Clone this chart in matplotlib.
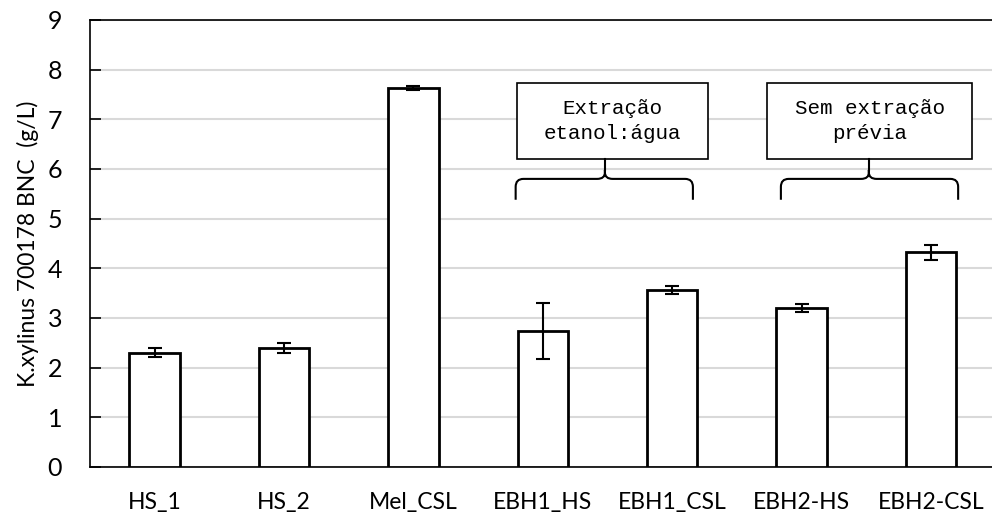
import numpy as np
import matplotlib
matplotlib.use("Agg")
from matplotlib import pyplot as plt
from matplotlib.patches import Rectangle, PathPatch
from matplotlib.path import Path

# dados (g/L)
categorias = ["HS_1", "HS_2", "Mel_CSL", "EBH1_HS", "EBH1_CSL", "EBH2-HS", "EBH2-CSL"]
bnc = [2.30, 2.39, 7.63, 2.74, 3.56, 3.21, 4.32]
erro = [0.09, 0.10, 0.05, 0.56, 0.08, 0.08, 0.15]
grupos = ["Extração\netanol:água", "Sem extração\nprévia"]

plt.rcParams['font.family'] = ['Lato', 'DejaVu Sans']

fig = plt.figure(figsize=(9.92, 5.25), dpi=100)
ax = fig.add_axes([0.0907, 0.1105, 0.913, 0.8515])

x = np.arange(len(categorias))
ax.bar(x, bnc, width=0.39, color='white', edgecolor='black', linewidth=2, zorder=3)
ax.errorbar(x, bnc, yerr=erro, fmt='none', ecolor='black', elinewidth=1.5,
            capsize=5, capthick=1.5, zorder=4)

ax.set_xlim(-0.5, len(categorias) - 0.5)
ax.set_ylim(0, 9)
ax.set_yticks(range(0, 10))
ax.set_xticks(x)
ax.set_xticklabels(categorias, fontsize=16.5)
ax.tick_params(axis='y', direction='in', length=8, width=1.2, labelsize=18, pad=20)
ax.tick_params(axis='x', length=0, pad=18)
ax.yaxis.grid(True, color='#d9d9d9', linewidth=1.5, zorder=0)
ax.set_axisbelow(True)
for s in ax.spines.values():
    s.set_linewidth(1.2)
ax.set_ylabel("K.xylinus 700178 BNC  (g/L)", fontsize=16.5, labelpad=6)

# caixas e chaves
caixas = [(2.80, 4.28, 3.48, 2.79, 4.16), (4.73, 6.32, 5.52, 4.84, 6.21)]
yb, yt = 6.20, 7.73
yh, ybot, ytip = 5.80, 5.38, 5.98
rx, ry = 0.06, 0.16
for (x0, x1, c, L, R), txt in zip(caixas, grupos):
    ax.add_patch(Rectangle((x0, yb), x1 - x0, yt - yb, facecolor='white',
                           edgecolor='black', linewidth=1.2, zorder=5))
    ax.text((x0 + x1) / 2, (yb + yt) / 2, txt, ha='center', va='center',
            family='Liberation Mono', fontsize=15, linespacing=1.4, zorder=6)
    # chave: lado esquerdo até a ponta, depois lado direito
    verts = [(L, ybot), (L, yh - ry), (L, yh), (L + rx, yh),
             (c - rx, yh), (c, yh), (c, ytip - 0.05), (c, ytip),
             (c, ytip), (c, ytip - 0.05), (c, yh), (c + rx, yh),
             (R - rx, yh), (R, yh), (R, yh - ry), (R, ybot)]
    codes = [Path.MOVETO, Path.LINETO, Path.CURVE3, Path.CURVE3,
             Path.LINETO, Path.CURVE3, Path.CURVE3, Path.LINETO,
             Path.MOVETO, Path.LINETO, Path.CURVE3, Path.CURVE3,
             Path.LINETO, Path.CURVE3, Path.CURVE3, Path.LINETO]
    ax.add_patch(PathPatch(Path(verts, codes), facecolor='none', edgecolor='black',
                           linewidth=1.5, zorder=5))
    ax.plot([c, c], [ytip, yb], color='black', linewidth=1.5, zorder=5)

fig.savefig("out.png", dpi=100)
